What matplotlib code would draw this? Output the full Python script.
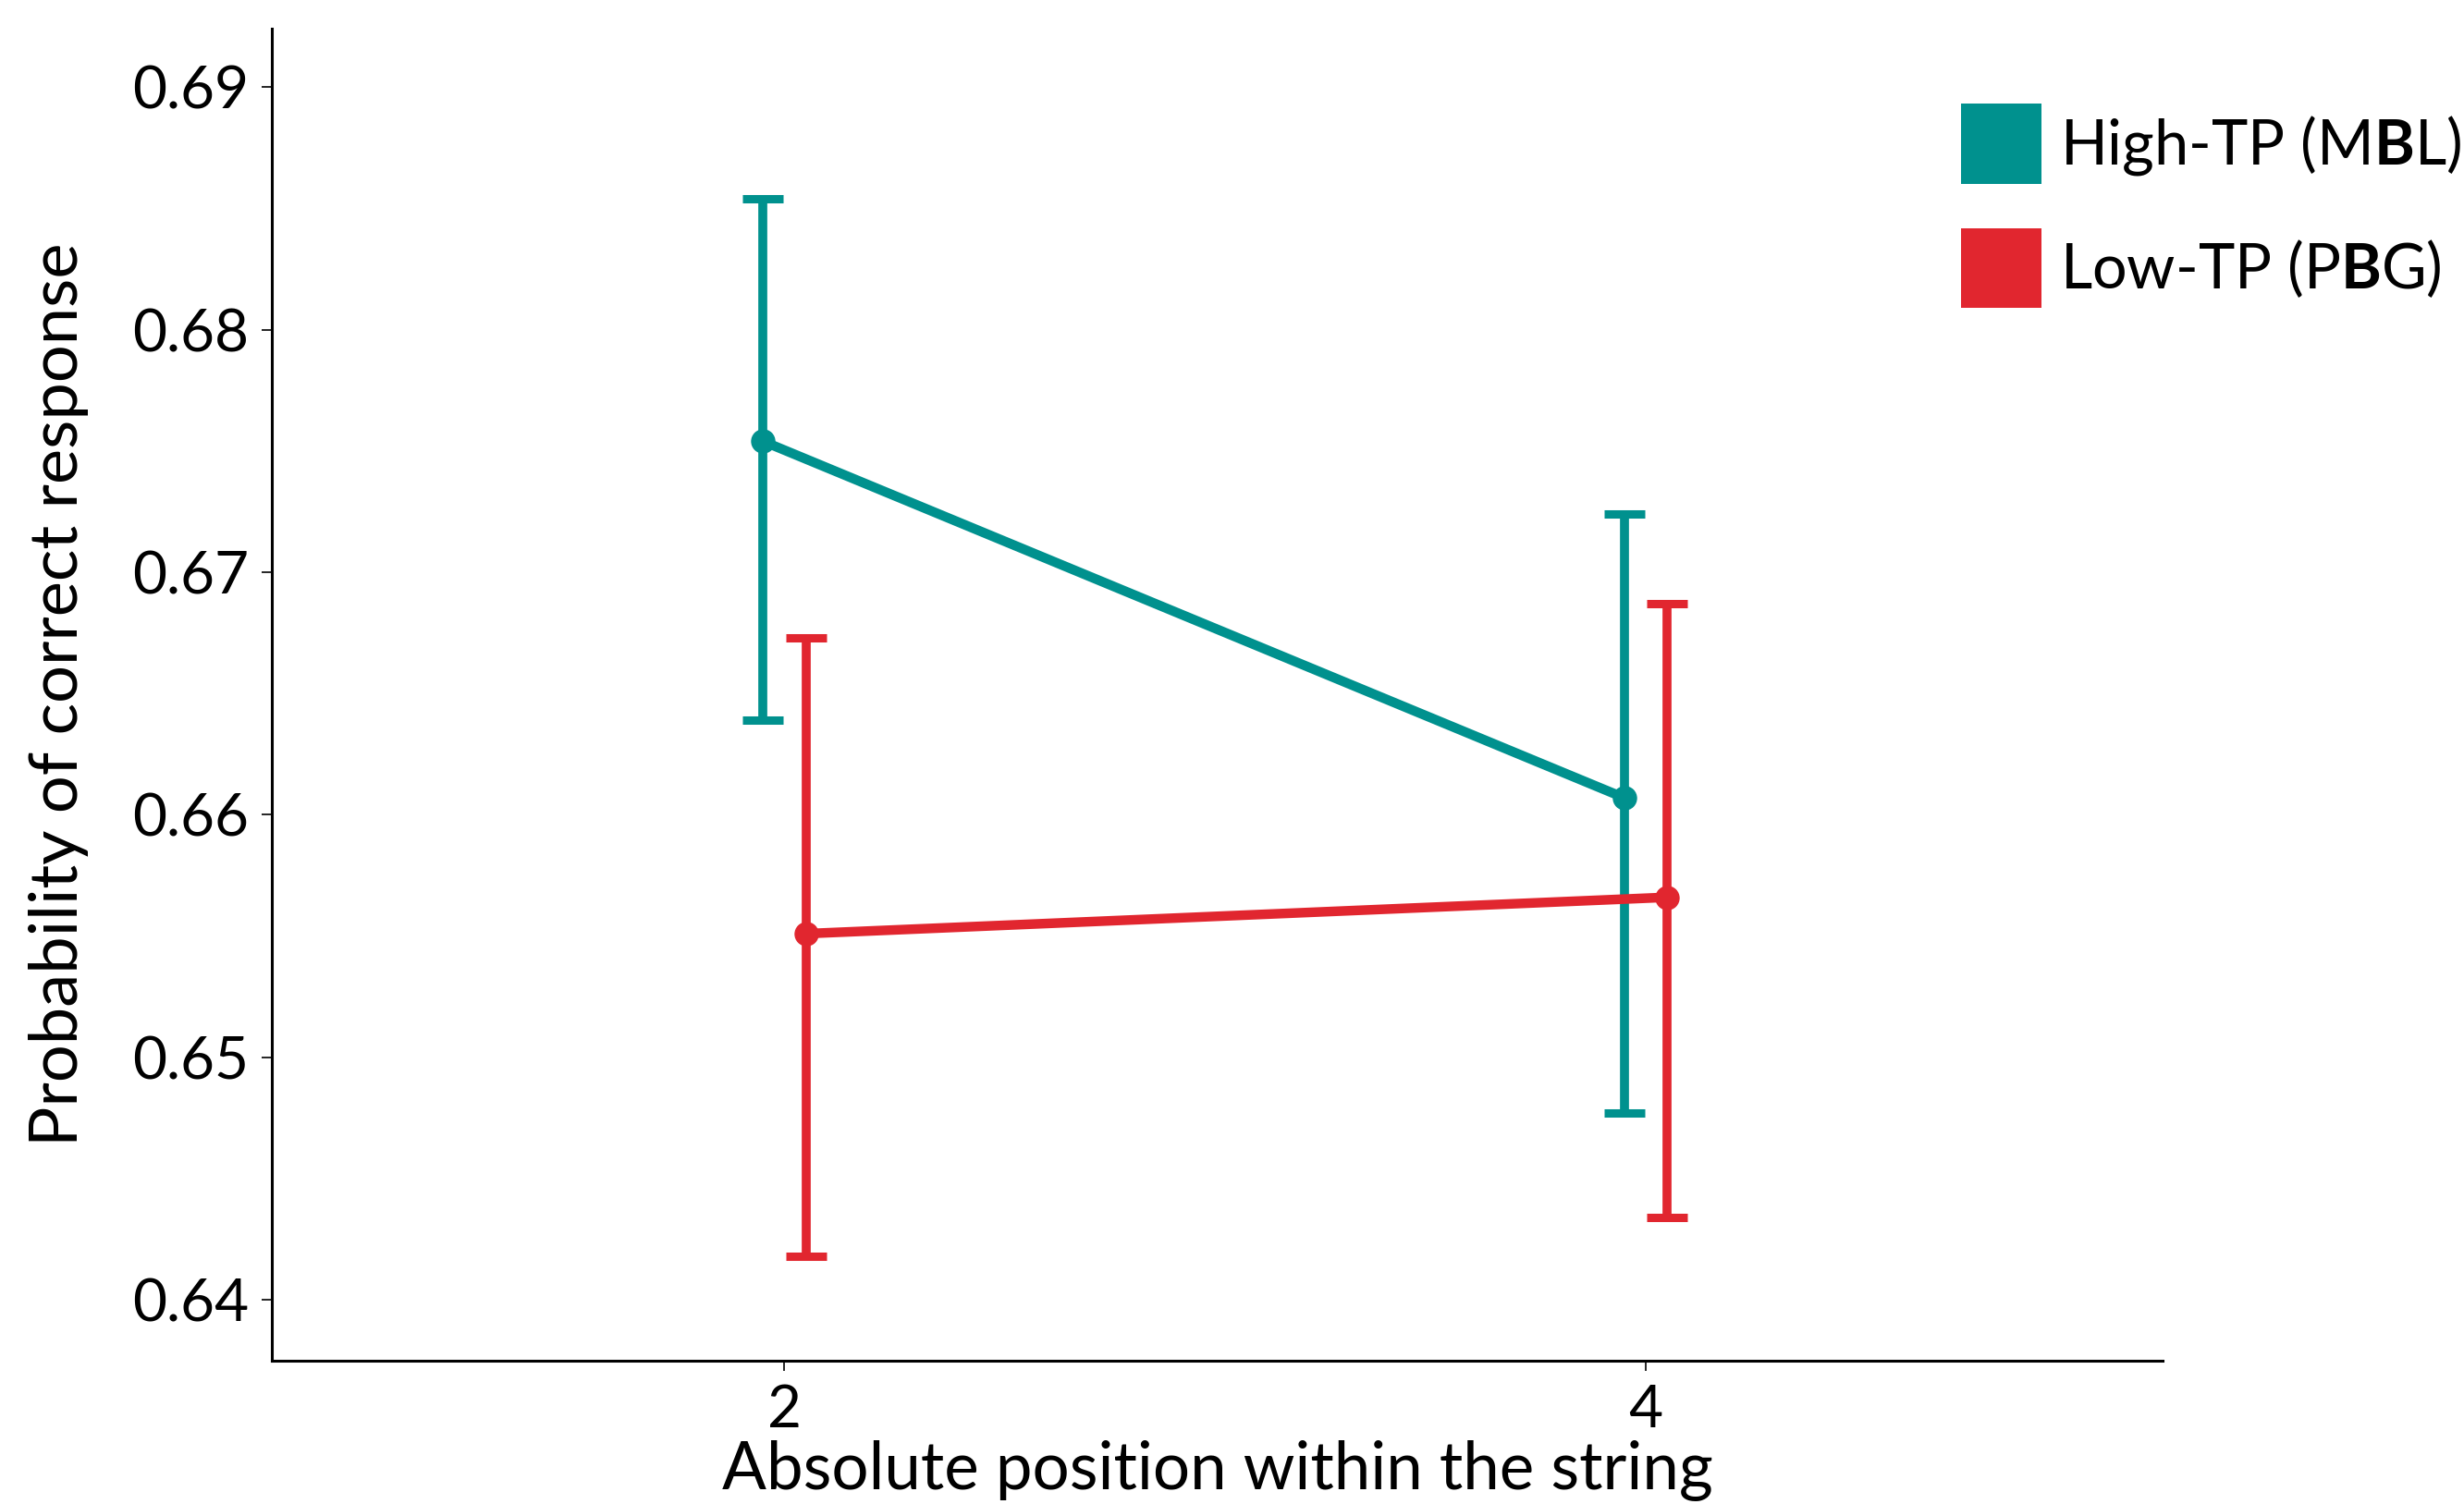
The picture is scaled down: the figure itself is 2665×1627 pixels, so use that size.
import matplotlib
matplotlib.use("Agg")
import matplotlib.pyplot as plt
from matplotlib.patches import Patch

# ---- data ----
positions = [2, 4]
series_names = ["High-TP (M$\\mathbf{B}$L)", "Low-TP (P$\\mathbf{B}$G)"]
high_mean = [0.6754, 0.6607]
high_lo = [0.6639, 0.6477]
high_hi = [0.6854, 0.6724]
low_mean = [0.6551, 0.6566]
low_lo = [0.6418, 0.6434]
low_hi = [0.6673, 0.6687]
ytick_vals = [0.64, 0.65, 0.66, 0.67, 0.68, 0.69]
xtick_vals = [2, 4]

teal = "#00918E"
red = "#E1262F"
dodge = 0.05

plt.rcParams["font.family"] = ["Lato", "DejaVu Sans"]
plt.rcParams["mathtext.fontset"] = "custom"
plt.rcParams["mathtext.rm"] = "Lato"
plt.rcParams["mathtext.bf"] = "Lato:bold"

fig = plt.figure(figsize=(26.65, 16.27), dpi=100)
ax = fig.add_axes([0.1103, 0.0953, 0.8777 - 0.1103, 0.9809 - 0.0953])

def draw(means, lo, hi, color, off):
    xs = [p + off for p in positions]
    yerr = [[m - l for m, l in zip(means, lo)], [h - m for m, h in zip(means, hi)]]
    ax.errorbar(xs, means, yerr=yerr, fmt="none", ecolor=color, elinewidth=7,
                capsize=16, capthick=6.5, zorder=2)
    ax.plot(xs, means, color=color, lw=7.5, marker="o", markersize=18,
            solid_capstyle="butt", zorder=3)

draw(high_mean, high_lo, high_hi, teal, -dodge)
draw(low_mean, low_lo, low_hi, red, dodge)

ax.set_xlim(0.81, 5.2)
ax.set_ylim(0.6375, 0.6924)
ax.set_xticks(xtick_vals)
ax.set_xticklabels([str(v) for v in xtick_vals])
ax.set_yticks(ytick_vals)
ax.set_yticklabels([f"{v:.2f}" for v in ytick_vals])

for s in ["top", "right"]:
    ax.spines[s].set_visible(False)
for s in ["left", "bottom"]:
    ax.spines[s].set_linewidth(2.2)
    ax.spines[s].set_color("black")

ax.tick_params(axis="both", length=8, width=1.2, colors="black", labelsize=46, pad=10)
ax.set_xlabel("Absolute position within the string", fontsize=51, labelpad=2)
ax.set_ylabel("Probability of correct response", fontsize=52)
ax.yaxis.set_label_coords(-0.097, 0.5)

handles = [Patch(facecolor=teal, edgecolor="none"), Patch(facecolor=red, edgecolor="none")]
fig.legend(handles, series_names, loc="upper left", bbox_to_anchor=(0.796, 0.931),
           frameon=False, fontsize=48, handlelength=1.3, handleheight=1.62,
           handletextpad=0.3, labelspacing=0.72, borderpad=0, borderaxespad=0)

fig.savefig("out.png", dpi=100)
